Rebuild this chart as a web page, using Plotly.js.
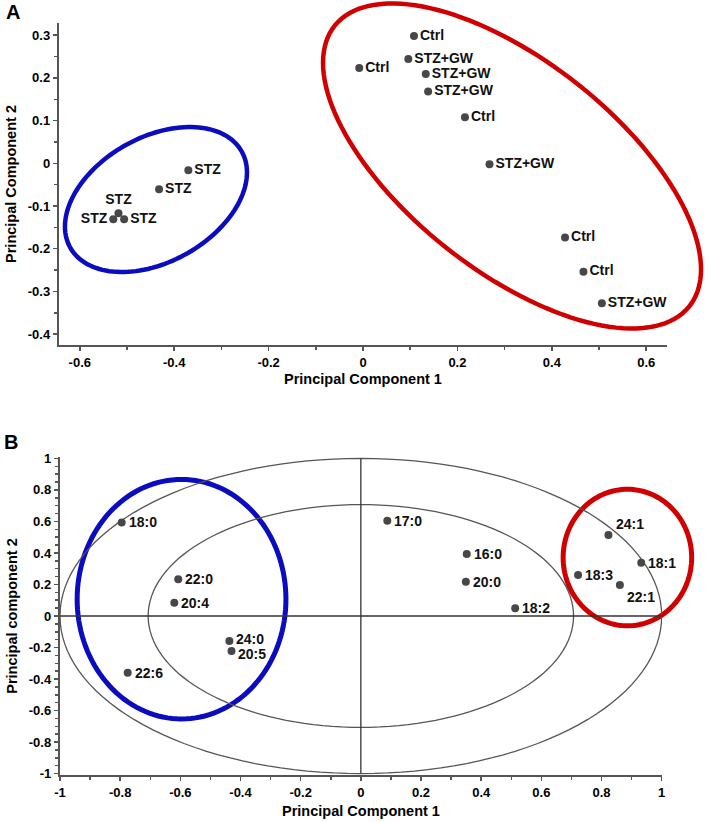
<!DOCTYPE html>
<html>
<head>
<meta charset="utf-8">
<script src="https://cdn.plot.ly/plotly-3.0.1.min.js"></script>
<style>html,body{margin:0;padding:0;background:#fff;}#chart{width:709px;height:822px;}</style>
</head>
<body>
<div id="chart"></div>
<script>
// ---------- Panel A data ----------
const A_group = ['Ctrl','STZ+GW','Ctrl','STZ+GW','STZ+GW','Ctrl','STZ+GW','Ctrl','Ctrl','STZ+GW','STZ','STZ','STZ','STZ','STZ'];
const A_pc1 = [0.108, 0.096, -0.008, 0.133, 0.138, 0.216, 0.268, 0.428, 0.467, 0.506, -0.370, -0.432, -0.518, -0.529, -0.506];
const A_pc2 = [0.298, 0.244, 0.223, 0.209, 0.168, 0.108, -0.002, -0.174, -0.254, -0.328, -0.016, -0.061, -0.117, -0.131, -0.131];
const A_xticks = [-0.6, -0.4, -0.2, 0, 0.2, 0.4, 0.6];
const A_xticktext = ['-0.6', '-0.4', '-0.2', '0', '0.2', '0.4', '0.6'];
const A_yticks = [-0.4, -0.3, -0.2, -0.1, 0, 0.1, 0.2, 0.3];
const A_yticktext = ['-0.4', '-0.3', '-0.2', '-0.1', '0', '0.1', '0.2', '0.3'];

// ---------- Panel B data ----------
const B_fa = ['18:0','22:0','20:4','24:0','20:5','22:6','17:0','16:0','20:0','18:2','24:1','18:1','18:3','22:1'];
const B_pc1 = [-0.795, -0.607, -0.620, -0.437, -0.430, -0.775, 0.088, 0.352, 0.349, 0.513, 0.823, 0.932, 0.722, 0.861];
const B_pc2 = [0.594, 0.233, 0.084, -0.159, -0.222, -0.360, 0.605, 0.393, 0.218, 0.049, 0.514, 0.338, 0.260, 0.197];
const B_xticks = [-1, -0.8, -0.6, -0.4, -0.2, 0, 0.2, 0.4, 0.6, 0.8, 1];
const B_xticktext = ['-1', '-0.8', '-0.6', '-0.4', '-0.2', '0', '0.2', '0.4', '0.6', '0.8', '1'];
const B_yticks = [-1, -0.8, -0.6, -0.4, -0.2, 0, 0.2, 0.4, 0.6, 0.8, 1];
const B_yticktext = ['-1', '-0.8', '-0.6', '-0.4', '-0.2', '0', '0.2', '0.4', '0.6', '0.8', '1'];

// Group ellipses: [cx, cy, rx, ry, rho]
const A_ellipseSTZ = [-0.4386, -0.0848, 0.1928, 0.1698, 0.3736];
const A_ellipseCtrl = [0.3157, -0.0063, 0.4004, 0.3806, -0.635];
const B_circleOuter = [0, 0, 1, 1, 0];
const B_circleInner = [0, 0, 0.707, 0.707, 0];
const B_ellipseBlue = [-0.596, 0.1066, 0.347, 0.760, 0];
const B_ellipseRed = [0.886, 0.371, 0.2136, 0.433, 0];

// ---------- axis geometry (layout) ----------
const W = 709, H = 822;
const AX = {domain: [59/W, 667/W], range: [-0.644, 0.644]};
const AY = {domain: [1 - 345/H, 1 - 23/H], range: [-0.4255, 0.3286]};
const BX = {domain: [60/W, 662/W], range: [-1, 1.001]};
const BY = {domain: [1 - 775/H, 1 - 457/H], range: [-1.009, 1.009]};

function toPaper(ax, v) {
  const f = (v - ax.range[0]) / (ax.range[1] - ax.range[0]);
  return ax.domain[0] + f * (ax.domain[1] - ax.domain[0]);
}

// ellipse path; if xa/ya given, converted to paper coordinates (so it is not clipped)
function ellipsePath(p, xa, ya) {
  const [cx, cy, rx, ry, rho] = p;
  const s = Math.sqrt(1 - rho * rho);
  const N = 140;
  let d = '';
  for (let i = 0; i <= N; i++) {
    const t = 2 * Math.PI * i / N;
    let x = cx + rx * Math.cos(t);
    let y = cy + ry * (rho * Math.cos(t) + s * Math.sin(t));
    if (xa) { x = toPaper(xa, x); y = toPaper(ya, y); }
    d += (i === 0 ? 'M' : 'L') + x.toFixed(5) + ',' + y.toFixed(5);
  }
  return d + 'Z';
}

const FONT = 'Liberation Sans, Arial, Helvetica, sans-serif';
const axisCol = '#555555';
const markerCol = '#474747';

const A_textpos = A_group.map(() => 'middle right');
A_textpos[12] = 'top center';
A_textpos[13] = 'middle left';
A_textpos[14] = 'middle right';

const traceA = {
  x: A_pc1, y: A_pc2, text: A_group, type: 'scatter', mode: 'markers+text',
  xaxis: 'x', yaxis: 'y',
  marker: {size: 8, color: markerCol},
  textposition: A_textpos,
  textfont: {family: FONT, size: 14, weight: 'bold', color: '#111'},
  cliponaxis: false, hoverinfo: 'none'
};
const traceB = {
  x: B_pc1, y: B_pc2, type: 'scatter', mode: 'markers',
  xaxis: 'x2', yaxis: 'y2',
  marker: {size: 8, color: markerCol},
  cliponaxis: false, hoverinfo: 'none'
};

// labels of panel B as annotations (fine offsets)
const labelFont = {family: FONT, size: 14, weight: 'bold', color: '#111'};
const B_labels = B_fa.map((t, i) => {
  let xs = 5, ys = 0;
  if (t === '24:1') { xs = 6; ys = 11; }
  if (t === '22:1') { xs = 5; ys = -12; }
  if (t === '24:0') { ys = 2; }
  if (t === '20:5') { ys = -3; }
  return {text: t, xref: 'x2', yref: 'y2', x: B_pc1[i], y: B_pc2[i], xanchor: 'left', yanchor: 'middle',
          xshift: xs, yshift: ys, showarrow: false, font: labelFont};
});

const tickFont = {family: FONT, size: 13, weight: 'bold', color: '#000'};
const titleFont = {family: FONT, size: 14.5, weight: 'bold', color: '#000'};

function axisBase(extra) {
  return Object.assign({
    showgrid: false, zeroline: false, showline: true,
    linecolor: axisCol, linewidth: 2.2,
    ticks: 'outside', ticklen: 4, tickwidth: 1.5, tickcolor: axisCol,
    tickfont: tickFont, tickmode: 'array', automargin: false, fixedrange: true
  }, extra);
}

const shapes = [
  {type: 'path', xref: 'paper', yref: 'paper', path: ellipsePath(A_ellipseSTZ, AX, AY), line: {color: '#0b0bbf', width: 4.5}, layer: 'below'},
  {type: 'path', xref: 'paper', yref: 'paper', path: ellipsePath(A_ellipseCtrl, AX, AY), line: {color: '#d10000', width: 4.5}, layer: 'below'},
  {type: 'path', xref: 'x2', yref: 'y2', path: ellipsePath(B_circleOuter), line: {color: '#555', width: 1.3}, layer: 'below'},
  {type: 'path', xref: 'x2', yref: 'y2', path: ellipsePath(B_circleInner), line: {color: '#555', width: 1.3}, layer: 'below'},
  {type: 'line', xref: 'x2', yref: 'y2', x0: 0, x1: 0, y0: -1, y1: 1, line: {color: '#333', width: 1.3}, layer: 'below'},
  {type: 'line', xref: 'x2', yref: 'y2', x0: -1, x1: 1, y0: 0, y1: 0, line: {color: '#333', width: 1.3}, layer: 'below'},
  {type: 'path', xref: 'paper', yref: 'paper', path: ellipsePath(B_ellipseBlue, BX, BY), line: {color: '#0b0bbf', width: 5}, layer: 'below'},
  {type: 'path', xref: 'paper', yref: 'paper', path: ellipsePath(B_ellipseRed, BX, BY), line: {color: '#d10000', width: 5}, layer: 'below'}
];

const minorX = {tickmode: 'linear', tick0: 0, dtick: 0.1, ticklen: 3, tickcolor: axisCol, tickwidth: 1.5, ticks: 'outside'};
const minorY = {tickmode: 'linear', tick0: 0, dtick: 0.05, ticklen: 3, tickcolor: axisCol, tickwidth: 1.5, ticks: 'outside'};

const layout = {
  width: W, height: H,
  margin: {l: 0, r: 0, t: 0, b: 0},
  paper_bgcolor: '#fff', plot_bgcolor: 'rgba(0,0,0,0)',
  showlegend: false,
  xaxis: axisBase({
    domain: AX.domain, range: AX.range, anchor: 'y',
    tickvals: A_xticks, ticktext: A_xticktext, minor: minorX,
    title: {text: 'Principal Component 1', font: titleFont, standoff: 5}
  }),
  yaxis: axisBase({
    domain: AY.domain, range: AY.range, anchor: 'x',
    tickvals: A_yticks, ticktext: A_yticktext, minor: minorY,
    title: {text: 'Principal Component 2', font: titleFont, standoff: 8}
  }),
  xaxis2: axisBase({
    domain: BX.domain, range: BX.range, anchor: 'y2',
    tickvals: B_xticks, ticktext: B_xticktext, minor: minorX,
    title: {text: 'Principal Component 1', font: titleFont, standoff: 7}
  }),
  yaxis2: axisBase({
    domain: BY.domain, range: BY.range, anchor: 'x2',
    tickvals: B_yticks, ticktext: B_yticktext, minor: minorY,
    title: {text: 'Principal component 2', font: titleFont, standoff: 8}
  }),
  shapes: shapes,
  annotations: [
    {text: 'A', xref: 'paper', yref: 'paper', x: 12.5/W, y: 1 - 12/H, xanchor: 'center', yanchor: 'middle', showarrow: false,
     font: {family: FONT, size: 20, weight: 'bold', color: '#000'}},
    {text: 'B', xref: 'paper', yref: 'paper', x: 11/W, y: 1 - 442/H, xanchor: 'center', yanchor: 'middle', showarrow: false,
     font: {family: FONT, size: 20, weight: 'bold', color: '#000'}}
  ].concat(B_labels)
};

Plotly.newPlot('chart', [traceA, traceB], layout, {displayModeBar: false, staticPlot: true});
</script>
</body>
</html>
